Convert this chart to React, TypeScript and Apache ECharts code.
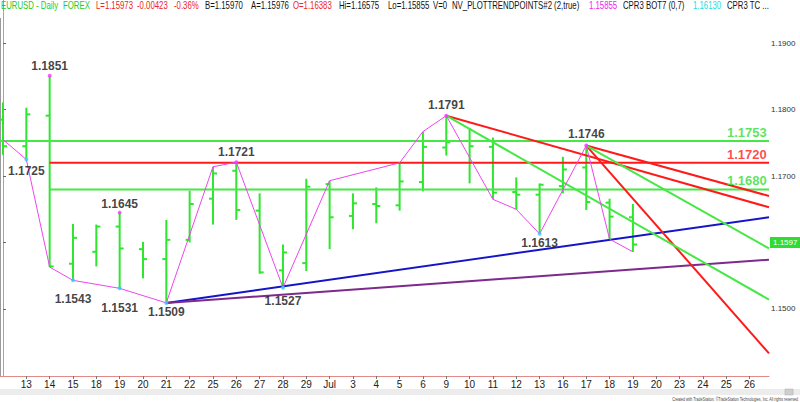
import React, { useEffect, useRef } from 'react';
import * as echarts from 'echarts';

// ---- data ----
const dateLabels = ['12','13','14','15','18','19','20','21','22','25','26','27','28','29','Jul','3','4','5','6','9','10','11','12','13','16','17','18','19','20','23','24','25','26'];

const opens  = [1.1785,1.1745,1.1791,1.1568,1.1586,1.1624,1.1590,1.1575,1.1604,1.1666,1.1708,1.1648,1.1558,1.1569,1.1688,1.1640,1.1658,1.1656,1.1691,1.1743,1.1753,1.1744,1.1676,1.1672,1.1685,1.1713,1.1660,1.1638];
const highs  = [1.1811,1.1803,1.1851,1.1628,1.1627,1.1645,1.1601,1.1634,1.1678,1.1714,1.1721,1.1674,1.1597,1.1696,1.1693,1.1674,1.1683,1.1720,1.1767,1.1791,1.1772,1.1758,1.1698,1.1689,1.1729,1.1746,1.1666,1.1658];
const lows   = [1.1732,1.1725,1.1563,1.1543,1.1564,1.1531,1.1546,1.1509,1.1600,1.1627,1.1634,1.1553,1.1532,1.1557,1.1590,1.1620,1.1629,1.1648,1.1677,1.1731,1.1689,1.1665,1.1650,1.1613,1.1674,1.1649,1.1605,1.1586];
const closes = [1.1745,1.1793,1.1564,1.1607,1.1624,1.1591,1.1575,1.1604,1.1658,1.1704,1.1649,1.1555,1.1585,1.1684,1.1638,1.1659,1.1655,1.1692,1.1744,1.1751,1.1745,1.1675,1.1672,1.1687,1.1710,1.1661,1.1639,1.1597];

const swingIdx   = [0,1,2,3,5,7,9,10,12,14,17,18,19,21,22,23,25,26,27];
const swingPrice = [1.1755,1.1725,1.1563,1.1543,1.1531,1.1509,1.1714,1.1721,1.1532,1.1693,1.1720,1.1767,1.1791,1.1665,1.1650,1.1613,1.1746,1.1605,1.1586];

const pivotIdx    = [2,1,5,3,5,7,10,12,19,23,25];
const pivotPrice  = [1.1851,1.1725,1.1645,1.1543,1.1531,1.1509,1.1721,1.1532,1.1791,1.1613,1.1746];
const pivotText   = ['1.1851','1.1725','1.1645','1.1543','1.1531','1.1509','1.1721','1.1527','1.1791','1.1613','1.1746'];
const pivotIsHigh = [true,false,true,false,false,false,true,false,true,false,true];

const levelPrices = [1.1753, 1.1720, 1.1680];
const levelStartIdx = [null, 2, 2];

const X_MIN = -0.1286;
const X_MAX = 32.833;
const Y_MIN = 1.139894;
const Y_MAX = 1.196521;

const trendBlue   = [[7, 1.1509], [X_MAX, 1.1638]];
const trendPurple = [[7, 1.1509], [X_MAX, 1.1574]];
const trendRedA   = [[19, 1.1791], [X_MAX, 1.1653]];
const trendRedB   = [[25, 1.1746], [X_MAX, 1.1670]];
const trendRedC   = [[25, 1.1746], [X_MAX, 1.1433]];
const trendGreenD = [[19, 1.1791], [X_MAX, 1.1514]];
const trendGreenE = [[25, 1.1746], [X_MAX, 1.1591]];

const yTicks = [1.15, 1.16, 1.17, 1.18, 1.19];
const yTickLabels = [1.15, 1.17, 1.18, 1.19];

// ---- styles ----
const FONT = 'Liberation Sans, Arial, sans-serif';
const BAR_GREEN = '#2ee62e';
const LINE_GREEN = '#45e845';
const RED = '#ff1a1a';
const BLUE = '#1515c8';
const PURPLE = '#7d2a8c';
const MAGENTA = '#ee44ee';
const pivotGap = [2, 4, 1, 11, 12, 1, 2, 5, 3, 1, 4];
const levelColors = [LINE_GREEN, RED, LINE_GREEN];
const levelLabelColors = ['#33dd33', '#ff1a1a', '#33dd33'];

const header = [
  { t: 'EURUSD - Daily', c: '#22cc22', x: 1 },
  { t: 'FOREX', c: '#22cc22', x: 63 },
  { t: 'L=1.15973', c: '#ee2222', x: 96 },
  { t: '-0.00423', c: '#ee2222', x: 137 },
  { t: '-0.36%', c: '#ee2222', x: 174 },
  { t: 'B=1.15970', c: '#111', x: 205 },
  { t: 'A=1.15976', c: '#111', x: 251 },
  { t: 'O=1.16383', c: '#ee2222', x: 293 },
  { t: 'Hi=1.16575', c: '#111', x: 339 },
  { t: 'Lo=1.15855', c: '#111', x: 388 },
  { t: 'V=0', c: '#111', x: 433 },
  { t: 'NV_PLOTTRENDPOINTS#2 (2,true)', c: '#111', x: 452 },
  { t: '1.15855', c: '#ee22ee', x: 589 },
  { t: 'CPR3 BOT7 (0,7)', c: '#111', x: 623 },
  { t: '1.16130', c: '#22dddd', x: 693 },
  { t: 'CPR3 TC ...', c: '#111', x: 727 },
];

function trendSeries(pts: number[][], color: string) {
  return {
    type: 'line', data: pts, showSymbol: false, symbol: 'none', z: 4,
    lineStyle: { color, width: 2 }, silent: true,
  };
}

export default function App() {
  const ref = useRef<HTMLDivElement>(null);
  useEffect(() => {
    document.body.style.margin = '0';
    const chart = echarts.init(ref.current!, null, { renderer: 'svg' });
    const ohlcData = opens.map((o, i) => [i, o, highs[i], lows[i], closes[i]]);
    const lastClose = closes[closes.length - 1];

    const option: any = {
      animation: false,
      backgroundColor: '#ffffff',
      textStyle: { fontFamily: FONT },
      grid: { left: 0, right: 31, top: 0, bottom: 26, containLabel: false },
      xAxis: {
        type: 'value', min: X_MIN, max: X_MAX,
        axisLine: { show: true, lineStyle: { color: '#e08a8a', width: 1 } },
        axisTick: { show: true, length: 3, lineStyle: { color: '#777' }, customValues: dateLabels.map((_, i) => i).slice(1) },
        axisLabel: {
          show: true, fontSize: 10, color: '#222', margin: 3, fontFamily: FONT,
          customValues: dateLabels.map((_, i) => i).slice(1),
          formatter: (v: number) => dateLabels[Math.round(v)] ?? '',
        },
        splitLine: { show: false },
      },
      yAxis: {
        type: 'value', position: 'right', min: Y_MIN, max: Y_MAX, scale: true,
        axisLine: { show: true, lineStyle: { color: '#e08a8a', width: 1 } },
        axisTick: { show: true, length: 3, lineStyle: { color: '#666' }, customValues: yTicks },
        axisLabel: {
          show: true, fontSize: 8, color: '#333', margin: 2, fontFamily: FONT,
          customValues: yTickLabels,
          formatter: (v: number) => v.toFixed(4),
        },
        splitLine: { show: false },
      },
      series: [
        {
          type: 'custom', z: 2, clip: true,
          data: ohlcData,
          encode: { x: 0, y: [1, 2, 3, 4] },
          renderItem: (params: any, api: any) => {
            const x = api.value(0);
            const ph = api.coord([x, api.value(2)]);
            const pl = api.coord([x, api.value(3)]);
            const po = api.coord([x, api.value(1)]);
            const pc = api.coord([x, api.value(4)]);
            const st = { stroke: BAR_GREEN, lineWidth: 2 };
            return {
              type: 'group',
              children: [
                { type: 'line', shape: { x1: ph[0], y1: ph[1], x2: pl[0], y2: pl[1] }, style: st },
                { type: 'line', shape: { x1: po[0] - 4, y1: po[1], x2: po[0], y2: po[1] }, style: st },
                { type: 'line', shape: { x1: pc[0], y1: pc[1], x2: pc[0] + 4, y2: pc[1] }, style: st },
              ],
            };
          },
        },
        ...levelPrices.map((p, k) => ({
          type: 'line', z: 3, showSymbol: false, symbol: 'none', silent: true,
          data: [[levelStartIdx[k] ?? X_MIN, p], [X_MAX, p]],
          lineStyle: { color: levelColors[k], width: 2 },
        })),
        trendSeries(trendBlue, BLUE),
        trendSeries(trendPurple, PURPLE),
        trendSeries(trendRedA, RED),
        trendSeries(trendRedB, RED),
        trendSeries(trendRedC, RED),
        trendSeries(trendGreenD, LINE_GREEN),
        trendSeries(trendGreenE, LINE_GREEN),
        {
          type: 'line', z: 5, showSymbol: false, symbol: 'none', silent: true,
          data: swingIdx.map((i, k) => [i, swingPrice[k]]),
          lineStyle: { color: MAGENTA, width: 1 },
          markLine: {
            silent: true, symbol: 'none', animation: false,
            lineStyle: { color: 'rgba(255,255,255,0)', width: 1, type: 'solid' },
            data: [{ yAxis: lastClose }],
            label: {
              show: true, position: 'end', distance: 1,
              formatter: () => lastClose.toFixed(4),
              backgroundColor: '#2fdc2f', color: '#ffffff', fontSize: 8, fontFamily: FONT,
              padding: [1, 4, 1, 3], lineHeight: 9,
            },
          },
        },
        {
          type: 'scatter', z: 6, silent: true,
          data: pivotIdx.map((i, k) => ({
            value: [i, pivotPrice[k]],
            symbolSize: 4,
            itemStyle: { color: pivotIsHigh[k] ? '#ff33ff' : '#33ccff' },
            label: {
              show: true, position: pivotIsHigh[k] ? 'top' : 'bottom', distance: pivotGap[k],
              formatter: pivotText[k], color: '#111', fontWeight: 'bold', fontSize: 12, fontFamily: FONT,
            },
          })),
        },
        {
          type: 'scatter', z: 6, silent: true, symbolSize: 0,
          data: levelPrices.map((p, k) => ({
            value: [X_MAX - 0.1, p],
            label: {
              show: true, position: 'top', align: 'right', distance: 2,
              formatter: p.toFixed(4), color: levelLabelColors[k], fontWeight: 'bold', fontSize: 13, fontFamily: FONT,
            },
          })),
        },
      ],
      graphic: [
        ...header.map((h) => ({
          type: 'text', x: h.x, y: 6, scaleX: 0.78, z: 10,
          style: { text: h.t, fill: h.c, font: `10px ${FONT}`, textVerticalAlign: 'middle' },
        })),
        { type: 'line', shape: { x1: 0.5, y1: 18, x2: 0.5, y2: 376 }, style: { stroke: '#9a9a9a', lineWidth: 1 } },
        { type: 'rect', shape: { x: 0, y: 389, width: 800, height: 6 }, style: { fill: '#ececec' } },
        { type: 'rect', shape: { x: 785, y: 389, width: 8, height: 6 }, style: { fill: '#cfcfcf', stroke: '#aaa', lineWidth: 0.5 } },
        {
          type: 'text', x: 798, y: 399, scaleX: 0.6, z: 10,
          style: {
            text: 'Created with TradeStation. \u00A9TradeStation Technologies, Inc. All rights reserved',
            fill: '#444', font: `6px ${FONT}`, textAlign: 'right', textVerticalAlign: 'middle',
          },
        },
      ],
    };
    chart.setOption(option);
    return () => chart.dispose();
  }, []);
  return <div ref={ref} style={{ width: 800, height: 402 }} />;
}
